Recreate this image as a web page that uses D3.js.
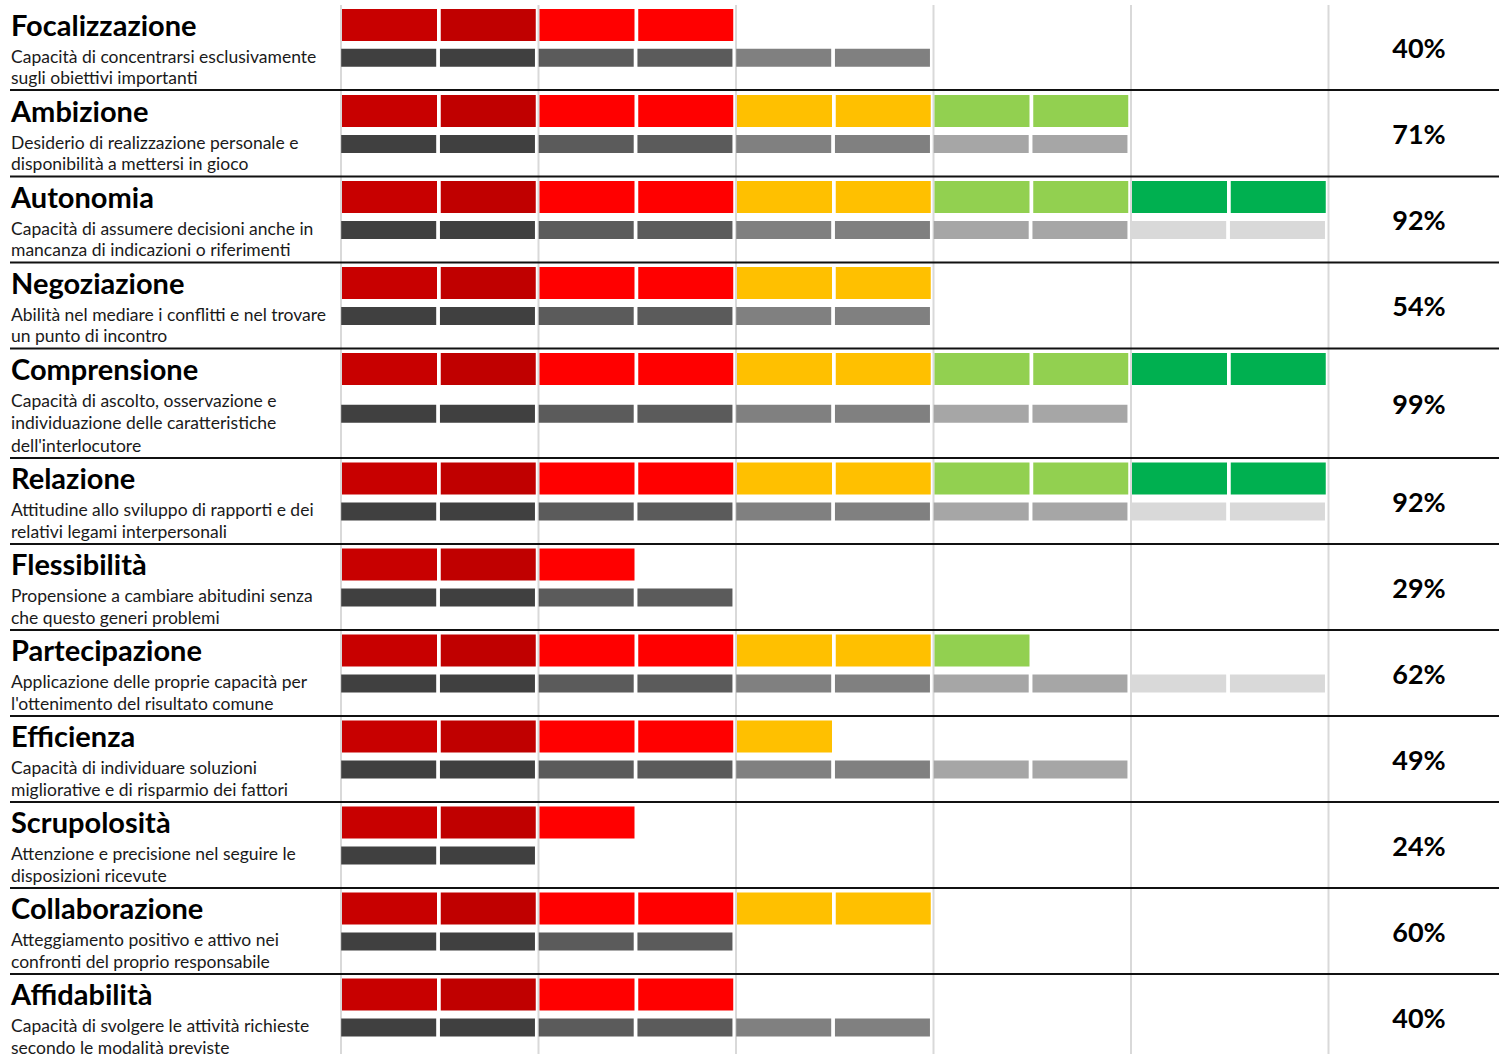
<!DOCTYPE html>
<html><head><meta charset="utf-8">
<script src="https://cdn.jsdelivr.net/npm/d3@7"></script>
<style>
html,body{margin:0;padding:0;background:#fff;}
svg{display:block;}
</style></head>
<body>
<svg id="chart" width="1499" height="1054"></svg>
<script>
const names = ["Focalizzazione","Ambizione","Autonomia","Negoziazione","Comprensione","Relazione","Flessibilità","Partecipazione","Efficienza","Scrupolosità","Collaborazione","Affidabilità"];
const descriptions = [
  ["Capacità di concentrarsi esclusivamente","sugli obiettivi importanti"],
  ["Desiderio di realizzazione personale e","disponibilità a mettersi in gioco"],
  ["Capacità di assumere decisioni anche in","mancanza di indicazioni o riferimenti"],
  ["Abilità nel mediare i conflitti e nel trovare","un punto di incontro"],
  ["Capacità di ascolto, osservazione e","individuazione delle caratteristiche","dell'interlocutore"],
  ["Attitudine allo sviluppo di rapporti e dei","relativi legami interpersonali"],
  ["Propensione a cambiare abitudini senza","che questo generi problemi"],
  ["Applicazione delle proprie capacità per","l'ottenimento del risultato comune"],
  ["Capacità di individuare soluzioni","migliorative e di risparmio dei fattori"],
  ["Attenzione e precisione nel seguire le","disposizioni ricevute"],
  ["Atteggiamento positivo e attivo nei","confronti del proprio responsabile"],
  ["Capacità di svolgere le attività richieste","secondo le modalità previste"]
];
const scoreSegments = [4, 8, 10, 6, 10, 10, 3, 7, 5, 3, 6, 4];
const referenceSegments = [6, 8, 10, 6, 8, 10, 4, 10, 8, 2, 4, 6];
const percentLabels = ["40%","71%","92%","54%","99%","92%","29%","62%","49%","24%","60%","40%"];
const scoreColors = ["#C80000","#C00000","#FF0000","#FF0000","#FFC000","#FFC000","#92D050","#92D050","#00B050","#00B050"];
const refColors = ["#404040","#404040","#5B5B5B","#5B5B5B","#808080","#808080","#A6A6A6","#A6A6A6","#D9D9D9","#D9D9D9"];
const gridTicks = [0, 2, 4, 6, 8, 10];

const svg = d3.select("#chart");
const W = 1499, H = 1054;
const top0 = 5;
const baseRowH = 86;
const rowH = descriptions.map((d, i) => d.length > 2 ? 109.5 : (i === 0 ? 85.5 : baseRowH));
const rowTops = [];
let acc = top0;
rowH.forEach(h => { rowTops.push(acc); acc += h; });

const x = d3.scaleLinear().domain([0, 10]).range([341, 1328.5]);
const unit = x(1) - x(0);
const segW = unit - 3.75;

// grid
svg.append("g").selectAll("line").data(gridTicks).join("line")
  .attr("x1", d => x(d)).attr("x2", d => x(d))
  .attr("y1", top0).attr("y2", H)
  .attr("stroke", "#D9D9D9").attr("stroke-width", 2);

const rows = svg.append("g").selectAll("g.row").data(names).join("g")
  .attr("class","row")
  .attr("transform", (d,i) => `translate(0,${rowTops[i]})`);

rows.each(function(name, i){
  const g = d3.select(this);
  const h = rowH[i];
  const rt = i === 0 ? -0.5 : 0;
  g.selectAll("rect.s").data(d3.range(scoreSegments[i])).join("rect")
    .attr("x", k => x(k) + 1).attr("y", 4.5 + rt)
    .attr("width", segW).attr("height", 32)
    .attr("fill", k => scoreColors[k]);
  const gy = h / 2 + 1.5 + rt;
  g.selectAll("rect.r").data(d3.range(referenceSegments[i])).join("rect")
    .attr("x", k => x(k) + 0.2).attr("y", gy)
    .attr("width", segW).attr("height", 18)
    .attr("fill", k => refColors[k]);
  g.append("text").attr("x", 11).attr("y", 31 + rt)
    .attr("font-family", "Lato, sans-serif").attr("font-weight", 700)
    .attr("font-size", 29).attr("fill", "#000").text(name);
  const ls = descriptions[i].length > 2 ? 22.5 : 21.5;
  g.selectAll("text.d").data(descriptions[i]).join("text")
    .attr("class","d")
    .attr("x", 11).attr("y", (l, j) => 58 + rt + j * ls)
    .attr("font-family", "Lato, sans-serif").attr("font-size", 17.5)
    .attr("fill", "#1a1a1a").text(l => l);
  g.append("text").attr("x", 1419).attr("y", h / 2 + rt)
    .attr("text-anchor","middle").attr("dominant-baseline","central")
    .attr("font-family", "Lato, sans-serif").attr("font-weight", 700)
    .attr("font-size", 27).attr("fill", "#000").text(percentLabels[i]);
  const sepY = h + rt;
  g.append("line").attr("x1", 10).attr("x2", W)
    .attr("y1", sepY).attr("y2", sepY)
    .attr("stroke", "#111").attr("stroke-width", 2);
});
</script>
</body></html>
